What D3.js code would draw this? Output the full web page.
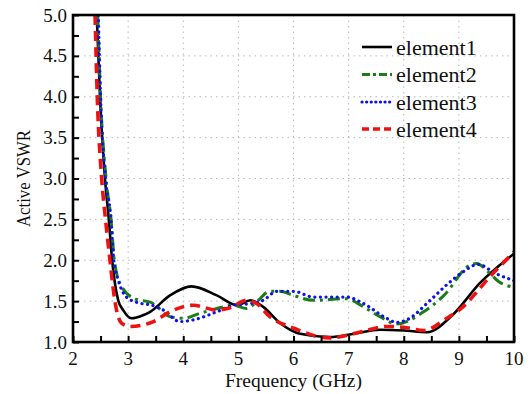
<!DOCTYPE html>
<html>
<head>
<meta charset="utf-8">
<script src="https://cdn.jsdelivr.net/npm/d3@7"></script>
</head>
<body style="margin:0;background:#fff">
<svg id="chart" width="531" height="394" style="display:block;font-family:'Liberation Serif'"></svg>
<script>
// Active VSWR of the four array elements versus frequency
const seriesNames = ["element1", "element2", "element3", "element4"];

const freq1 = [2.43, 2.49, 2.58, 2.65, 2.71, 2.76, 2.82, 2.91, 3.06, 3.28, 3.4, 3.76, 4.15, 4.61, 4.97, 5.22, 5.45, 5.76, 6.12, 6.66, 7.1, 7.57, 8.0, 8.42, 8.9, 9.38, 10.0];
const vswr1 = [5.0, 4.0, 3.0, 2.5, 2.0, 1.72, 1.51, 1.39, 1.29, 1.33, 1.37, 1.57, 1.68, 1.57, 1.45, 1.51, 1.43, 1.23, 1.1, 1.06, 1.1, 1.15, 1.14, 1.12, 1.34, 1.72, 2.08];

const freq2 = [2.45, 2.50, 2.60, 2.69, 2.75, 2.88, 3.12, 3.43, 3.76, 4.0, 4.30, 4.61, 4.91, 5.15, 5.33, 5.57, 5.75, 6.0, 6.36, 6.96, 7.27, 7.57, 7.87, 8.36, 8.73, 9.2, 9.32, 9.56, 9.72, 10.0];
const vswr2 = [5.0, 4.0, 3.0, 2.5, 2.0, 1.68, 1.53, 1.48, 1.31, 1.29, 1.35, 1.41, 1.45, 1.41, 1.49, 1.62, 1.62, 1.57, 1.51, 1.53, 1.43, 1.31, 1.22, 1.37, 1.57, 1.94, 1.96, 1.84, 1.74, 1.67];

const freq3 = [2.46, 2.50, 2.59, 2.69, 2.74, 2.82, 2.97, 3.18, 3.43, 3.64, 3.94, 4.18, 4.61, 4.91, 5.21, 5.45, 5.70, 6.0, 6.36, 6.96, 7.27, 7.69, 7.87, 8.05, 8.48, 8.78, 9.08, 9.35, 9.66, 10.0];
const vswr3 = [5.0, 4.0, 3.0, 2.5, 2.0, 1.76, 1.55, 1.48, 1.45, 1.39, 1.25, 1.27, 1.37, 1.45, 1.47, 1.51, 1.62, 1.62, 1.55, 1.55, 1.47, 1.29, 1.24, 1.27, 1.51, 1.70, 1.86, 1.95, 1.84, 1.75];

const freq4 = [2.40, 2.44, 2.52, 2.59, 2.67, 2.76, 2.88, 3.03, 3.28, 3.46, 3.76, 4.18, 4.61, 4.85, 5.15, 5.33, 5.57, 6.0, 6.66, 7.2, 7.69, 8.0, 8.36, 8.78, 9.02, 9.62, 10.0];
const vswr4 = [5.0, 4.0, 3.0, 2.5, 2.0, 1.5, 1.23, 1.19, 1.21, 1.25, 1.37, 1.45, 1.39, 1.42, 1.51, 1.47, 1.31, 1.17, 1.05, 1.12, 1.19, 1.18, 1.14, 1.29, 1.40, 1.84, 2.10];

const xTicks = [2, 3, 4, 5, 6, 7, 8, 9, 10];
const yTicks = [1.0, 1.5, 2.0, 2.5, 3.0, 3.5, 4.0, 4.5, 5.0];
const xLabel = "Frequency (GHz)";
const yLabel = "Active VSWR";

const series = [
  { name: seriesNames[0], f: freq1, v: vswr1, color: "#000000", width: 2.6, dash: null, legendDash: null, cap: "butt" },
  { name: seriesNames[1], f: freq2, v: vswr2, color: "#1a7d1a", width: 3.0, dash: "12,5,3,5", legendDash: "8,3,3,3", cap: "butt" },
  { name: seriesNames[2], f: freq3, v: vswr3, color: "#1010e8", width: 3.2, dash: "0.1,5.5", legendDash: "0.1,4.5", cap: "round" },
  { name: seriesNames[3], f: freq4, v: vswr4, color: "#ee1111", width: 3.6, dash: "10,6", legendDash: "7,4", cap: "butt" }
];

const svg = d3.select("#chart");
const plotLeft = 73, plotRight = 514, plotTop = 15, plotBottom = 342;

const x = d3.scaleLinear().domain([2, 10]).range([plotLeft, plotRight]);
const y = d3.scaleLinear().domain([1, 5]).range([plotBottom, plotTop]);

// dotted grid at the major ticks
const grid = svg.append("g").attr("stroke", "#b8b8b8").attr("stroke-width", 1).attr("stroke-dasharray", "1.5,4");
grid.selectAll("line.v").data(xTicks.slice(1, -1)).join("line").attr("class", "v")
  .attr("x1", d => x(d)).attr("x2", d => x(d)).attr("y1", plotTop).attr("y2", plotBottom);
grid.selectAll("line.h").data(yTicks.slice(1, -1)).join("line").attr("class", "h")
  .attr("y1", d => y(d)).attr("y2", d => y(d)).attr("x1", plotLeft).attr("x2", plotRight);

// curves
svg.append("clipPath").attr("id", "plotClip").append("rect")
  .attr("x", plotLeft).attr("y", plotTop).attr("width", plotRight - plotLeft).attr("height", plotBottom - plotTop);

const line = d3.line().x(d => x(d[0])).y(d => y(d[1])).curve(d3.curveMonotoneX);
const curves = svg.append("g").attr("clip-path", "url(#plotClip)");
series.forEach(s => {
  curves.append("path")
    .datum(d3.zip(s.f, s.v))
    .attr("d", line)
    .attr("fill", "none")
    .attr("stroke", s.color)
    .attr("stroke-width", s.width)
    .attr("stroke-linecap", s.cap)
    .attr("stroke-linejoin", "round")
    .attr("stroke-dasharray", s.dash);
});

// axes with inward ticks (major + minor)
const xAxis = d3.axisBottom(x).tickValues(d3.range(2, 10.01, 0.5)).tickSize(-6).tickFormat("");
const yAxis = d3.axisLeft(y).tickValues(d3.range(1, 5.01, 0.25)).tickSize(-6).tickFormat("");
const gx = svg.append("g").attr("transform", `translate(0,${plotBottom})`).call(xAxis);
const gy = svg.append("g").attr("transform", `translate(${plotLeft},0)`).call(yAxis);
[gx, gy].forEach(g => {
  g.select(".domain").remove();
  g.selectAll(".tick line").attr("stroke", "#000").attr("stroke-width", 2);
});

// frame
svg.append("rect").attr("x", plotLeft).attr("y", plotTop).attr("width", plotRight - plotLeft).attr("height", plotBottom - plotTop)
  .attr("fill", "none").attr("stroke", "#000").attr("stroke-width", 2.6);

// tick labels
svg.append("g").selectAll("text").data(xTicks).join("text")
  .attr("x", d => x(d)).attr("y", 365)
  .attr("text-anchor", "middle").attr("font-size", 19)
  .text(d => d);
svg.append("g").selectAll("text").data(yTicks).join("text")
  .attr("x", 67).attr("y", d => y(d) + 6.5)
  .attr("text-anchor", "end").attr("font-size", 19)
  .text(d => d.toFixed(1));

// axis titles
svg.append("text").attr("x", (plotLeft + plotRight) / 2).attr("y", 387)
  .attr("text-anchor", "middle").attr("font-size", 19.5).text(xLabel);
svg.append("text").attr("transform", `translate(30,${(plotTop + plotBottom) / 2}) rotate(-90)`)
  .attr("text-anchor", "middle").attr("font-size", 19)
  .attr("textLength", 97).attr("lengthAdjust", "spacingAndGlyphs").text(yLabel);

// legend
const rowY = [47, 74.5, 102, 129];
series.forEach((s, i) => {
  svg.append("line")
    .attr("x1", 362).attr("x2", 392).attr("y1", rowY[i]).attr("y2", rowY[i])
    .attr("stroke", s.color).attr("stroke-width", s.width)
    .attr("stroke-linecap", s.cap)
    .attr("stroke-dasharray", s.legendDash);
  svg.append("text").attr("x", 396).attr("y", rowY[i] + 7.5)
    .attr("font-size", 22).text(s.name);
});

// serif face and colour for every label
svg.selectAll("text")
  .attr("font-family", "Liberation Serif")
  .style("font-family", "\"Liberation Serif\", serif")
  .attr("fill", "#111");
</script>
</body>
</html>
